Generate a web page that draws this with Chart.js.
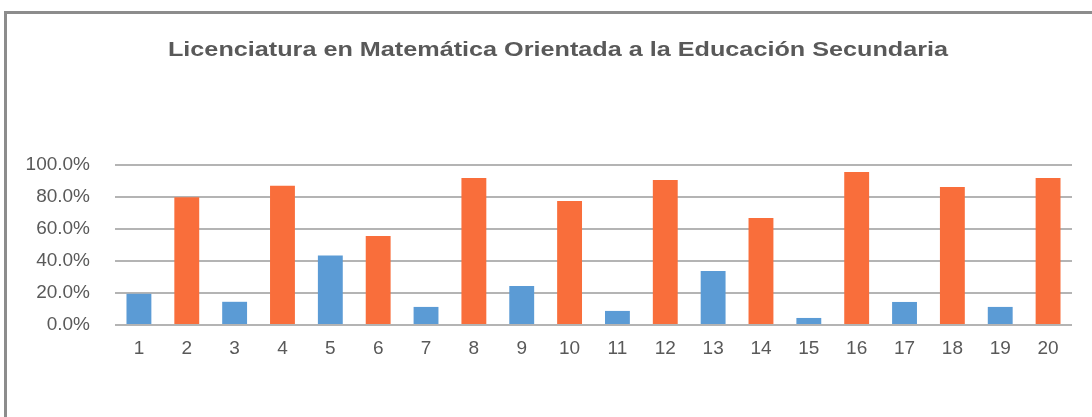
<!DOCTYPE html>
<html>
<head>
<meta charset="utf-8">
<script src="https://cdn.jsdelivr.net/npm/chart.js@4"></script>
<style>
  html, body { margin: 0; padding: 0; background: #fff; }
  #frame {
    position: absolute; left: 4px; top: 11px; width: 1200px; height: 500px;
    border-top: 3px solid #8c8c8c; border-left: 3px solid #8c8c8c;
  }
  #wrap { position: absolute; left: 0; top: 0; width: 1092px; height: 417px; }
</style>
</head>
<body>
<div id="frame"></div>
<div id="wrap"><canvas id="chart" width="1092" height="417"></canvas></div>
<script>
const chartTitle = 'Licenciatura en Matemática Orientada a la Educación Secundaria';
const labels = ['1', '2', '3', '4', '5', '6', '7', '8', '9', '10',
  '11', '12', '13', '14', '15', '16', '17', '18', '19', '20'];
// odd columns (blue) and even columns (orange), in percent
const blueValues = [19.5, null, 14.5, null, 43.5, null, 11.3, null, 24.4, null,
  8.8, null, 33.8, null, 4.4, null, 14.4, null, 11.3, null];
const orangeValues = [null, 79.8, null, 87, null, 55.6, null, 91.9, null, 77.5,
  null, 90.6, null, 66.9, null, 95.6, null, 86.3, null, 91.9];
const yTicks = [0, 20, 40, 60, 80, 100];

const FONT = "'Liberation Sans', Arial, sans-serif";

// title drawn by hand: the original's glyphs are stretched horizontally
const wideTitle = {
  id: 'wideTitle',
  afterDraw(chart) {
    const ctx = chart.ctx;
    ctx.save();
    ctx.font = 'bold 21px ' + FONT;
    ctx.fillStyle = '#595959';
    ctx.textAlign = 'center';
    ctx.textBaseline = 'middle';
    ctx.translate(558, 50);
    ctx.scale(1.2, 1);
    ctx.fillText(chartTitle, 0, 0);
    ctx.restore();
  },
};

new Chart(document.getElementById('chart'), {
  type: 'bar',
  data: {
    labels,
    datasets: [
      {
        data: blueValues,
        backgroundColor: '#5b9bd5',
        barPercentage: 0.52,
        categoryPercentage: 1,
      },
      {
        data: orangeValues,
        backgroundColor: '#f96e3b',
        barPercentage: 0.52,
        categoryPercentage: 1,
      },
    ],
  },
  plugins: [wideTitle],
  options: {
    responsive: false,
    animation: false,
    layout: { padding: { left: 0, right: 20, top: 165, bottom: 0 } },
    plugins: {
      legend: { display: false },
      tooltip: { enabled: false },
      title: { display: false },
    },
    scales: {
      x: {
        stacked: true,
        grid: { display: false },
        border: { display: false },
        ticks: { color: '#595959', font: { family: FONT, size: 19 }, padding: 4, maxRotation: 0 },
        afterFit: (s) => { s.height = 92; },
      },
      y: {
        stacked: false,
        min: 0,
        max: 100,
        afterBuildTicks: (s) => { s.ticks = yTicks.map((v) => ({ value: v })); },
        grid: { color: '#b4b4b4', lineWidth: 2, drawTicks: false },
        border: { display: false },
        ticks: {
          color: '#595959',
          font: { family: FONT, size: 19 },
          padding: 25,
          callback: (v) => v.toFixed(1) + '%',
        },
        afterFit: (s) => { s.width = 115; },
      },
    },
  },
});
</script>
</body>
</html>
